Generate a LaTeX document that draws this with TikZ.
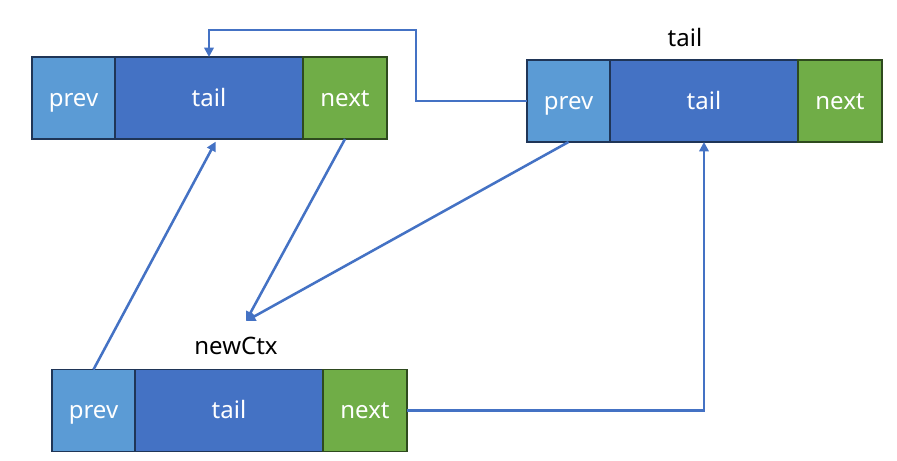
\documentclass[tikz,border=0pt]{standalone}
\usepackage{fontspec}
\setmainfont{Noto Sans}
\usetikzlibrary{positioning,calc,arrows.meta}
\definecolor{prevblue}{HTML}{5B9BD5}
\definecolor{tailblue}{HTML}{4472C4}
\definecolor{nextgreen}{HTML}{70AD47}
\definecolor{darkblue}{HTML}{1F3557}
\definecolor{darkgreen}{HTML}{2E4A1E}
\tikzset{
	cell/.style={rectangle,draw,line width=1pt,outer sep=0pt,inner sep=0pt,minimum height=61.5pt,text height=13pt,text depth=1pt,text=white,font=\fontsize{18}{21}\selectfont},
	prevcell/.style={cell,fill=prevblue,draw=darkblue,minimum width=62.25pt},
	tailcell/.style={cell,fill=tailblue,draw=darkblue,minimum width=141pt},
	nextcell/.style={cell,fill=nextgreen,draw=darkgreen,minimum width=63pt},
	ptrlabel/.style={font=\fontsize{18}{21}\selectfont, text centered},
	link/.style={->,>={Triangle[width=7pt,length=7pt]},color=tailblue,line width=1.9pt}
}
\begin{document}
\begin{tikzpicture}[x=.75pt,y=-.75pt]
\useasboundingbox (0,0) rectangle (897,461);

    % first node
    \node[prevcell] (P1) at (73.5,98) {prev};
    \node[tailcell,right=0pt of P1] (T1) {tail};
    \node[nextcell,right=0pt of T1] (N1) {next};

    % tail node
    \node[prevcell] (P2) at (568.5,101) {prev};
    \node[tailcell,right=0pt of P2] (T2) {tail};
    \node[nextcell,right=0pt of T2] (N2) {next};
    \node[ptrlabel] (L2) at (685,37) {tail};

    % new node
    \node[prevcell] (P3) at (93.5,410.5) {prev};
    \node[tailcell,right=0pt of P3] (T3) {tail};
    \node[nextcell,right=0pt of T3] (N3) {next};
    \node[ptrlabel] (L3) at (236,346) {newCtx};

    \coordinate (J1) at (416,30);
    \coordinate (H) at (246,321);

    \draw[link] (P2.west) -| (J1) -| (T1.north);
    \draw[link] (N1.south) -- (H);
    \draw[link] (P2.south) -- (H);
    \draw[link] (P3.north) -- ([xshift=5pt,yshift=-2pt]T1.south);
    \draw[link] (N3.east) -| (T2.south);
\end{tikzpicture}
\end{document}
